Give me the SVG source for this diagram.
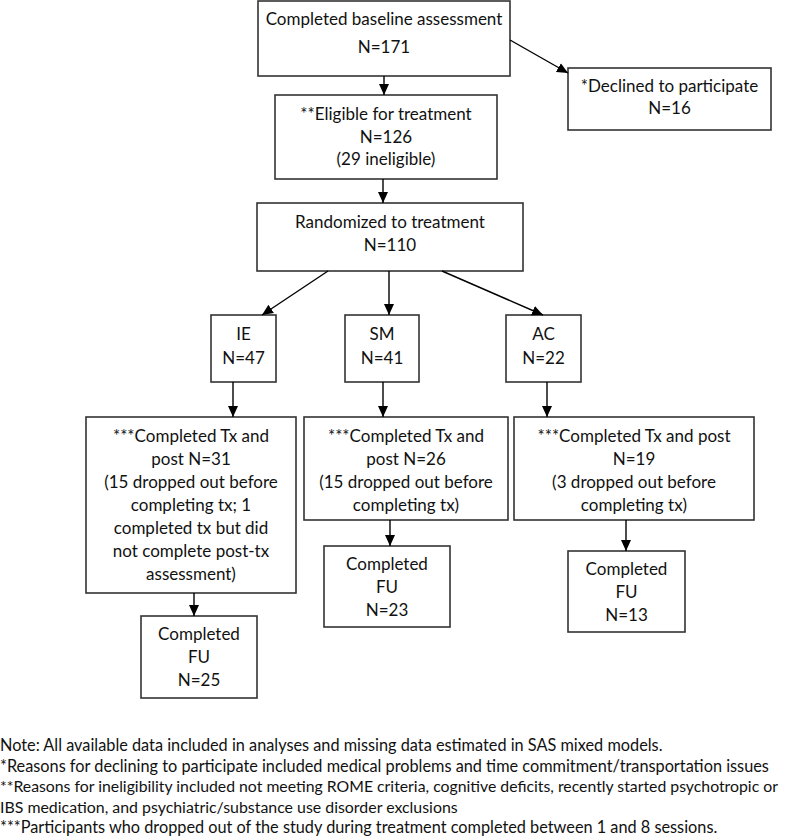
<svg xmlns="http://www.w3.org/2000/svg" width="800" height="837" viewBox="0 0 800 837">
<defs>
<style>
.box rect{fill:#fff;stroke:#333;stroke-width:1.6}
text{font-family:Lato,"Liberation Sans",sans-serif;font-size:17px;fill:#111;text-anchor:middle}
.note text{font-size:16.3px;text-anchor:start}
.conn line{stroke:#000;stroke-width:1.4;marker-end:url(#ah)}
</style>
<marker id="ah" markerUnits="userSpaceOnUse" markerWidth="12" markerHeight="12" viewBox="0 0 12 12" refX="11" refY="6" orient="auto">
<path d="M0,1 L11,6 L0,11 Z" fill="#000"/>
</marker>
</defs>
<rect width="800" height="837" fill="#fff"/>
<g id="n-baseline" class="box"><rect x="258" y="1" width="252" height="75"/><text x="384" y="25">Completed baseline assessment</text><text x="384" y="53">N=171</text></g>
<g id="n-declined" class="box"><rect x="568" y="68" width="203" height="62"/><text x="669.5" y="92">*Declined to participate</text><text x="669.5" y="114">N=16</text></g>
<g id="n-eligible" class="box"><rect x="275" y="95" width="222" height="84"/><text x="386" y="120">**Eligible for treatment</text><text x="386" y="143">N=126</text><text x="386" y="165">(29 ineligible)</text></g>
<g id="n-random" class="box"><rect x="257" y="203" width="266" height="68"/><text x="390" y="228">Randomized to treatment</text><text x="390" y="251">N=110</text></g>
<g id="n-ie" class="box"><rect x="211" y="315" width="65" height="67"/><text x="243.5" y="340">IE</text><text x="243.5" y="364">N=47</text></g>
<g id="n-sm" class="box"><rect x="345" y="315" width="74" height="67"/><text x="382" y="340">SM</text><text x="382" y="364">N=41</text></g>
<g id="n-ac" class="box"><rect x="506" y="315" width="75" height="67"/><text x="543.5" y="340">AC</text><text x="543.5" y="364">N=22</text></g>
<g id="n-tx-ie" class="box"><rect x="86" y="417" width="210" height="176"/>
<text x="191" y="442">***Completed Tx and</text><text x="191" y="465">post N=31</text><text x="191" y="488">(15 dropped out before</text><text x="191" y="511">completing tx; 1</text><text x="191" y="534">completed tx but did</text><text x="191" y="557">not complete post-tx</text><text x="191" y="580">assessment)</text></g>
<g id="n-tx-sm" class="box"><rect x="304" y="417" width="204" height="103"/>
<text x="406" y="442">***Completed Tx and</text><text x="406" y="465">post N=26</text><text x="406" y="488">(15 dropped out before</text><text x="406" y="511">completing tx)</text></g>
<g id="n-tx-ac" class="box"><rect x="514" y="417" width="240" height="103"/>
<text x="634" y="442">***Completed Tx and post</text><text x="634" y="465">N=19</text><text x="634" y="488">(3 dropped out before</text><text x="634" y="511">completing tx)</text></g>
<g id="n-fu-ie" class="box"><rect x="141" y="616" width="116" height="82"/><text x="199" y="640">Completed</text><text x="199" y="663">FU</text><text x="199" y="686">N=25</text></g>
<g id="n-fu-sm" class="box"><rect x="324" y="546" width="126" height="81"/><text x="387" y="570">Completed</text><text x="387" y="593">FU</text><text x="387" y="616">N=23</text></g>
<g id="n-fu-ac" class="box"><rect x="568" y="551" width="117" height="81"/><text x="626.5" y="575">Completed</text><text x="626.5" y="598">FU</text><text x="626.5" y="621">N=13</text></g>
<g id="connectors" class="conn">
<line x1="384" y1="76" x2="384" y2="95"/>
<line x1="510" y1="40" x2="568" y2="73"/>
<line x1="383" y1="179" x2="383" y2="203"/>
<line x1="328" y1="271" x2="262" y2="315"/>
<line x1="389" y1="271" x2="389" y2="315"/>
<line x1="442" y1="271" x2="543" y2="315"/>
<line x1="233" y1="382" x2="233" y2="417"/>
<line x1="383" y1="382" x2="383" y2="417"/>
<line x1="547" y1="382" x2="547" y2="417"/>
<line x1="194" y1="593" x2="194" y2="616"/>
<line x1="390" y1="520" x2="390" y2="546"/>
<line x1="626" y1="520" x2="626" y2="551"/>
</g>
<g id="notes" class="note">
<text x="0" y="751">Note: All available data included in analyses and missing data estimated in SAS mixed models.</text>
<text x="0" y="772">*Reasons for declining to participate included medical problems and time commitment/transportation issues</text>
<text x="0" y="792" style="font-size:15.8px">**Reasons for ineligibility included not meeting ROME criteria, cognitive deficits, recently started psychotropic or</text>
<text x="0" y="813" style="font-size:15.9px">IBS medication, and psychiatric/substance use disorder exclusions</text>
<text x="0" y="833">***Participants who dropped out of the study during treatment completed between 1 and 8 sessions.</text>
</g>
</svg>
